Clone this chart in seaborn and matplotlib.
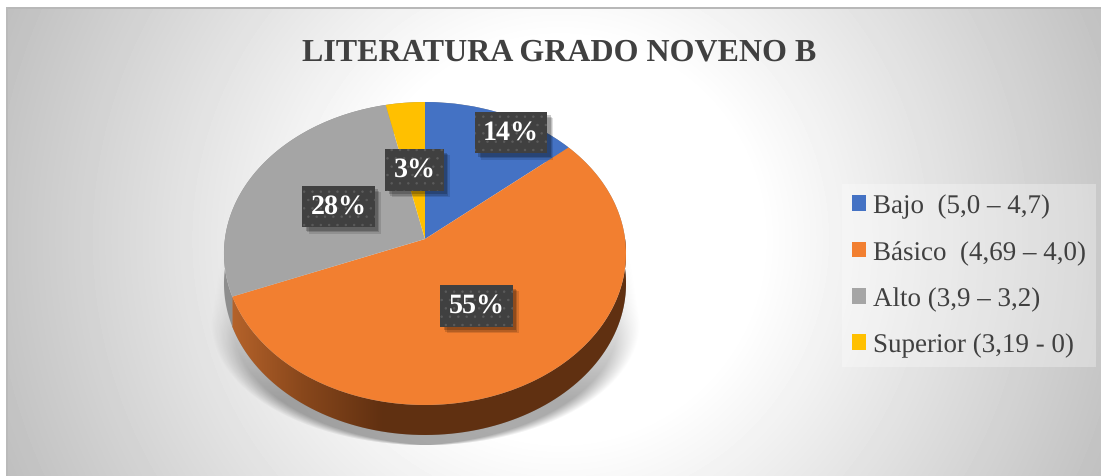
import numpy as np
import matplotlib
matplotlib.use("Agg")
from matplotlib import pyplot as plt
from matplotlib import patheffects as pe
from matplotlib.patches import PathPatch
from matplotlib.path import Path
from matplotlib.transforms import Transform
import seaborn as sns

# data: 29 students, shown as rounded percentages
legend_labels = ["Bajo  (5,0 – 4,7)", "Básico  (4,69 – 4,0)", "Alto (3,9 – 3,2)", "Superior (3,19 - 0)"]
student_counts = [4, 16, 8, 1]
slice_colors = ["#4472C4", "#F27F30", "#A5A5A5", "#FFC000"]
chart_title = "LITERATURA GRADO NOVENO B"

W, H = 1101, 477
label_positions = [(511, 133.5), (476.5, 307), (338.5, 207.5), (414.5, 171)]
WALL_DEPTH = 30


class TiltTransform(Transform):
    """Unit pie seen from above, in pixels: the far side shrinks a little."""
    input_dims = 2
    output_dims = 2
    k = 0.0957

    def transform_non_affine(self, xy):
        xy = np.asarray(xy, dtype=float)
        w = 1 + self.k * xy[:, 1]
        return np.column_stack((425 + 200.1 * xy[:, 0] / w, 240 - 150.1 * xy[:, 1] / w))


class BoxShadow(pe.AbstractPathEffect):
    """Flat shadow without the hatch of the box it belongs to."""

    def __init__(self, offset, alpha):
        super().__init__(offset)
        self.alpha = alpha

    def draw_path(self, renderer, gc, tpath, affine, rgbFace):
        gc0 = renderer.new_gc()
        gc0.copy_properties(gc)
        gc0.set_hatch(None)
        gc0.set_alpha(self.alpha)
        gc0.set_linewidth(0)
        renderer.draw_path(gc0, tpath, affine + self._offset_transform(renderer), (0, 0, 0))
        gc0.restore()


sns.set_theme(style="white")
plt.rcParams["font.family"] = ["Liberation Serif", "DejaVu Serif"]
plt.rcParams["hatch.linewidth"] = 0.5
plt.rcParams["text.hinting"] = "no_hinting"
plt.rcParams["text.hinting_factor"] = 1
palette = sns.color_palette(slice_colors)

fig = plt.figure(figsize=(W / 100, H / 100), dpi=100, facecolor="white")
ax = fig.add_axes([0, 0, 1, 1])

wedges, _, pct_texts = ax.pie(student_counts, colors=palette, startangle=90, counterclock=False,
                              autopct="%1.0f%%", wedgeprops={"linewidth": 0, "zorder": 4})
ax.set_aspect("auto")
tilt = TiltTransform()
for wedge in wedges:
    wedge.set_transform(tilt + ax.transData)

# panel background, radial grey
yy, xx = np.mgrid[8:H, 6:W]
dist = np.hypot(xx - 560, yy - 240)
grey = np.clip(255 - 0.16 * np.clip(dist - 200, 0, None), 0, 255) / 255
ax.imshow(grey, cmap="gray", vmin=0, vmax=1, extent=(6, W, H, 8), aspect="auto", zorder=0)
ax.fill_between([6, W], 8, 10, color="#b8b8b8", lw=0, zorder=1)
ax.fill_between([6, 8], 8, H, color="#bababa", lw=0, zorder=1)

# soft shadow under the pie: widens down to y=323, then rounds off
yy, xx = np.mgrid[225:448, 205:648]
half_width = np.where(yy < 323, 202 + (yy - 230) * 13 / 93,
                      215 * np.sqrt(np.clip(1 - ((yy - 323) / 123) ** 2, 0, 1)))
soft = np.clip((half_width - np.abs(xx - 425)) / 22, 0, 1)
strength = np.interp(yy, [225, 323, 400], [0.0, 0.12, 0.33])
shadow = np.zeros(soft.shape + (4,))
shadow[..., 3] = soft * strength
ax.imshow(shadow, extent=(205, 648, 448, 225), aspect="auto", zorder=2)

# side wall of the pie, only the front of it shows
wall_x = [233, 300, 383]
wall_r = [0xB4, 0x8A, 0x60]
wall_g = [0x62, 0x48, 0x30]
wall_b = [0x2A, 0x1C, 0x11]
for wedge, flat in zip(wedges, slice_colors):
    angles = np.radians(np.linspace(wedge.theta1, wedge.theta2, 120))
    rim = tilt.transform_non_affine(np.column_stack((np.cos(angles), np.sin(angles))))
    low = rim[::-1] + [0, WALL_DEPTH]
    outline = Path(np.vstack((rim, low, rim[:1])), closed=True)
    clip = PathPatch(outline, transform=ax.transData, lw=0, fc="#8e8e8e", zorder=3)
    ax.add_patch(clip)
    if flat == slice_colors[1]:
        columns = np.arange(220, 640)
        grad = np.dstack((np.interp(columns, wall_x, wall_r), np.interp(columns, wall_x, wall_g),
                          np.interp(columns, wall_x, wall_b))) / 255
        img = ax.imshow(grad, extent=(220, 640, 460, 240), aspect="auto", zorder=3)
        img.set_clip_path(clip)

# data labels
for txt, pos in zip(pct_texts, label_positions):
    txt.set_position(pos)
    txt.set(color="white", fontsize=20, fontweight="bold", ha="center", va="center", zorder=6)
    txt.set_bbox(dict(boxstyle="square,pad=0.29", facecolor="#404040", edgecolor="#5c5c5c",
                      hatch="..", linewidth=0))
    txt.get_bbox_patch().set_path_effects([
        BoxShadow((4.5, -4.5), 0.12),
        BoxShadow((3.5, -3.5), 0.15),
        BoxShadow((2.5, -2.5), 0.2),
        pe.Normal(),
    ])

ax.text(559, 53, chart_title, fontsize=23, fontweight="bold", color="#404040",
        ha="center", va="center", zorder=6)

legend = ax.legend(wedges, legend_labels, loc="center left", bbox_to_anchor=(842, 276.5),
                   bbox_transform=ax.transData, fontsize=19.2, labelcolor="#404040",
                   frameon=True, fancybox=False, framealpha=0.3, facecolor="white", edgecolor="none",
                   handlelength=0.53, handleheight=0.53, handletextpad=0.26,
                   labelspacing=0.82, borderpad=0.38, borderaxespad=0)
legend.set_zorder(6)

ax.set_xlim(0, W)
ax.set_ylim(H, 0)
ax.axis("off")
fig.savefig("out.png", dpi=100, facecolor="white")
